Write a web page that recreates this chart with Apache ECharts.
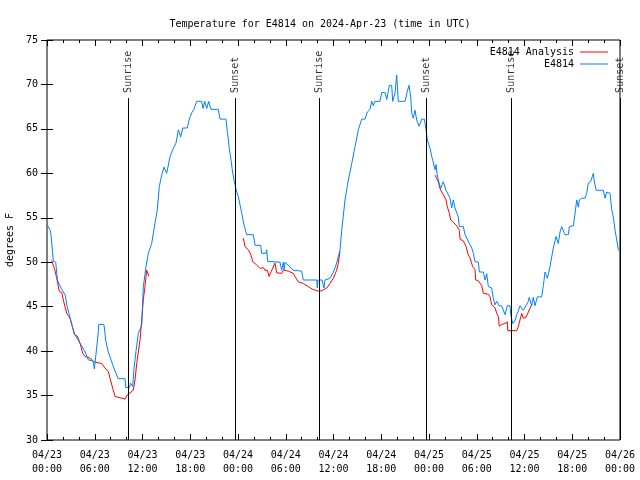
<!DOCTYPE html>
<html>
<head>
<meta charset="utf-8">
<script src="https://cdn.jsdelivr.net/npm/echarts@6/dist/echarts.min.js"></script>
<style>html,body{margin:0;padding:0;background:#fff;}#c{width:640px;height:480px;}</style>
</head>
<body>
<div id="c"></div>
<script>
// ---- data (hours since 2024-04-23 00:00 UTC, degrees F) ----
var blueHours = [0.0,0.4,0.5,0.75,0.8,1.1,1.3,1.8,2.3,2.5,2.8,3.1,3.4,4.0,4.8,5.2,5.8,5.95,6.15,6.45,6.5,7.15,7.4,7.7,8.05,8.4,8.95,9.8,9.9,10.35,10.5,10.77,10.93,11.2,11.47,11.9,12.1,12.44,12.73,13.15,13.57,13.86,14.11,14.41,14.7,15.04,15.46,15.87,16.21,16.5,16.8,17.05,17.63,17.88,18.18,18.47,18.81,19.44,19.6,19.82,20.07,20.32,20.48,20.6,21.53,21.74,22.49,22.66,22.91,23.12,23.28,23.5,23.84,24.04,24.47,24.76,25.09,25.92,26.14,26.85,26.98,27.5,27.6,27.73,29.28,29.49,29.7,29.8,29.9,30.95,32.0,32.2,33.89,33.97,34.05,34.56,34.8,34.93,35.56,35.98,36.4,36.82,37.03,37.45,37.86,38.29,38.7,39.12,39.55,39.96,40.25,40.59,40.8,41.0,41.2,41.84,42.06,42.47,42.69,43.01,43.31,43.44,43.73,43.94,44.14,44.99,45.28,45.49,45.7,45.83,46.03,46.24,46.46,46.75,47.09,47.41,47.63,47.79,48.13,48.34,48.47,48.67,48.76,48.88,49.0,49.17,49.47,49.8,50.14,50.64,50.85,51.05,51.27,51.68,51.81,52.31,52.53,53.07,53.37,53.58,53.78,54.2,54.33,54.83,55.04,55.26,55.46,55.88,56.08,56.29,56.51,56.83,57.13,57.55,57.84,58.18,58.27,58.52,58.81,59.02,59.22,59.43,59.85,60.19,60.48,60.6,60.9,61.1,61.32,61.61,62.16,62.37,62.58,62.87,63.21,63.42,63.62,63.96,64.25,64.46,64.68,64.88,65.09,65.51,65.64,66.14,66.35,66.56,66.76,66.89,67.19,67.6,67.82,68.02,68.32,68.65,68.74,68.99,69.9,70.12,70.33,70.53,70.75,70.96,71.16,71.38,71.59,71.79,72.0];
var blueTemps = [54.2,53.6,53.1,53.1,50.1,50.0,48.0,47.0,46.3,45.1,44.1,43.1,42.0,41.1,39.9,39.0,38.9,38.0,39.6,42.2,43.0,43.0,41.1,39.9,39.0,38.1,36.9,36.9,35.9,35.9,36.4,36.0,38.0,40.1,42.0,42.9,47.2,49.5,51.0,52.1,54.4,55.9,58.5,59.8,60.7,60.0,61.9,62.8,63.4,64.9,64.1,65.1,65.1,66.1,66.8,67.2,68.1,68.1,67.3,68.1,67.3,68.1,68.1,67.2,67.2,66.1,66.1,64.7,62.8,61.5,60.4,59.2,57.9,57.4,55.5,54.2,53.1,53.1,51.9,51.9,51.0,51.0,51.4,50.1,50.0,49.1,50.0,49.1,50.0,49.1,49.0,48.0,48.0,47.1,48.0,48.0,47.1,48.0,48.2,48.9,49.9,51.4,53.6,57.0,59.25,61.1,63.0,64.9,66.1,66.1,66.9,67.2,68.1,67.6,68.1,68.1,69.1,69.1,68.3,69.9,69.9,68.1,69.0,71.06,68.1,68.1,69.25,69.9,68.6,66.75,66.2,67.1,66.0,65.3,66.1,66.1,64.9,63.75,62.8,61.9,61.5,60.7,60.4,61.0,60.0,59.25,58.3,59.06,58.1,57.2,56.1,57.0,56.1,55.1,54.0,54.0,53.1,52.1,51.6,51.0,50.06,50.0,48.9,48.9,48.0,48.7,47.25,47.1,45.9,45.2,45.6,45.1,45.1,44.1,45.1,45.1,44.1,43.1,43.4,44.1,44.5,45.1,44.6,45.1,45.6,46.05,45.1,46.05,45.1,46.1,46.1,47.4,48.9,48.2,49.5,50.6,51.6,52.9,52.1,53.4,54.0,54.0,53.1,53.1,54.0,54.1,55.5,57.0,56.2,57.0,57.2,57.2,57.75,58.9,59.1,60.0,59.3,58.1,58.1,57.2,57.9,57.9,57.75,55.9,55.1,53.6,52.5,51.4,51.2];
var redHours = [0.59,0.79,1.0,1.22,1.55,1.85,2.05,2.26,2.48,2.89,3.18,3.52,3.81,4.15,4.49,4.78,5.4,5.91,6.87,7.29,7.7,7.92,8.26,8.55,8.76,9.8,10.09,10.43,10.84,11.06,11.27,11.69,11.9,12.1,12.31,12.53,12.65,12.82,
  18.0,
  24.67,24.88,25.3,25.6,25.85,26.35,26.77,27.18,27.39,27.68,27.9,28.24,28.65,28.86,29.49,29.7,30.32,30.95,31.16,31.58,32.21,32.84,33.39,34.09,34.52,35.15,35.56,35.98,36.4,36.6,36.82,
  42.0,
  48.76,48.97,49.17,49.38,49.59,49.8,50.14,50.3,50.56,50.73,51.05,51.48,51.81,51.9,52.31,52.65,52.94,53.15,53.49,53.78,53.87,54.2,54.62,54.83,55.46,55.67,55.88,56.29,56.51,56.71,56.83,57.13,57.55,57.84,57.89,59.02,59.22,59.65,59.85,60.19,60.48,60.9];
var redTemps = [50.2,50.1,49.1,48.2,46.7,46.6,45.75,45.0,44.25,43.7,42.75,41.8,41.7,40.9,39.75,39.4,39.2,38.8,38.6,38.1,37.7,37.6,35.8,34.9,34.7,34.6,35.06,35.3,35.6,36.75,38.6,41.25,43.5,45.75,47.25,49.1,49.2,48.4,
  null,
  52.7,51.75,51.4,50.9,50.06,49.7,49.3,49.4,49.1,49.1,48.4,49.1,49.9,48.8,48.75,49.1,49.0,48.75,48.4,47.8,47.6,47.25,46.95,46.75,46.8,47.1,47.6,48.2,49.1,49.9,51.2,
  null,
  59.8,59.7,59.06,58.3,57.9,57.6,57.0,56.25,55.5,54.75,54.5,54.1,53.6,52.6,52.4,51.8,50.8,50.5,49.5,49.2,48.0,47.9,47.4,46.5,46.4,46.1,45.2,44.9,44.25,43.9,42.8,43.0,43.1,43.3,42.3,42.3,42.75,44.25,43.7,43.8,44.4,45.2];
var sunHours = [10.22, 23.63, 34.2, 47.7, 58.35, 72.0];
var sunNames = ['Sunrise','Sunset','Sunrise','Sunset','Sunrise','Sunset'];
var sunLineTop = 68.47;
var sunLabelY = 69.05;
var xTickDays = ['04/23','04/24','04/25','04/26'];

function pairs(h, t) { return h.map(function (v, i) { return [v, t[i]]; }); }

var FONT = 'DejaVu Sans Mono';
var chart = echarts.init(document.getElementById('c'), null, {renderer: 'canvas'});
var tickStyle = {show: true, inside: true, length: 6, lineStyle: {color: '#000', width: 1}};
var minorStyle = {show: true, splitNumber: 3, length: 3, lineStyle: {color: '#000', width: 1}};

chart.setOption({
  animation: false,
  backgroundColor: '#fff',
  textStyle: {fontFamily: FONT},
  title: {
    text: 'Temperature for E4814 on 2024-Apr-23 (time in UTC)',
    left: 'center', top: 14,
    textStyle: {fontFamily: FONT, fontSize: 10, fontWeight: 'normal', color: '#000'}
  },
  legend: [
    {data: ['E4814 Analysis'], right: 27, top: 42, align: 'right', itemWidth: 28, itemHeight: 10, itemGap: 4,
     textStyle: {fontFamily: FONT, fontSize: 10, color: '#000', padding: [0, 1, 0, 0]}, icon: 'path://M0,5L28,5L28,6L0,6Z'},
    {data: ['E4814'], right: 27, top: 54, align: 'right', itemWidth: 28, itemHeight: 10,
     textStyle: {fontFamily: FONT, fontSize: 10, color: '#000', padding: [0, 1, 0, 0]}, icon: 'path://M0,5L28,5L28,6L0,6Z'}
  ],
  grid: {left: 47, right: 20, top: 40, bottom: 40, show: true, borderColor: '#000', borderWidth: 1,
    backgroundColor: 'transparent', containLabel: false, outerBoundsMode: 'none'},
  xAxis: [
    {type: 'value', min: 0, max: 72, interval: 6, position: 'bottom',
     axisLine: {show: false}, splitLine: {show: false},
     axisTick: tickStyle, minorTick: minorStyle,
     axisLabel: {fontFamily: FONT, fontSize: 10, color: '#000', margin: 8, lineHeight: 14,
       formatter: function (v) { var d = Math.floor(v / 24); var h = v - d * 24; return xTickDays[d] + '\n' + (h < 10 ? '0' : '') + h + ':00'; }}},
    {type: 'value', min: 0, max: 72, interval: 6, position: 'top',
     axisLine: {show: false}, splitLine: {show: false},
     axisTick: tickStyle, minorTick: minorStyle, axisLabel: {show: false}}
  ],
  yAxis: [
    {type: 'value', min: 30, max: 75, interval: 5, position: 'left',
     name: 'degrees F', nameLocation: 'middle', nameRotate: 90, nameGap: 31,
     nameTextStyle: {fontFamily: FONT, fontSize: 10, color: '#000'},
     axisLine: {show: false}, splitLine: {show: false},
     axisTick: tickStyle, axisLabel: {fontFamily: FONT, fontSize: 10, color: '#000', margin: 9}},
    {type: 'value', min: 30, max: 75, interval: 5, position: 'right',
     axisLine: {show: false}, splitLine: {show: false},
     axisTick: tickStyle, axisLabel: {show: false}}
  ],
  series: [
    {name: 'E4814 Analysis', type: 'line', data: pairs(redHours, redTemps), showSymbol: false, symbol: 'none',
     connectNulls: false, lineStyle: {color: '#ff0000', width: 1}, itemStyle: {color: '#ff0000'}, z: 3},
    {name: 'E4814', type: 'line', data: pairs(blueHours, blueTemps), showSymbol: false, symbol: 'none',
     lineStyle: {color: '#0080ff', width: 1}, itemStyle: {color: '#0080ff'}, z: 4},
    {name: 'sun', type: 'scatter', symbolSize: 0, silent: true, z: 5,
     data: sunHours.map(function (h, i) { return {value: [h, sunLabelY], name: sunNames[i]}; }),
     label: {show: true, position: 'inside', rotate: 90, align: 'left', verticalAlign: 'middle',
       formatter: function (p) { return p.name; }, fontFamily: FONT, fontSize: 10, color: '#000'},
     markLine: {silent: true, symbol: ['none', 'none'], label: {show: false},
       lineStyle: {color: '#000', width: 1, type: 'solid'},
       data: sunHours.map(function (h) { return [{coord: [h, 30]}, {coord: [h, sunLineTop]}]; })}}
  ]
});
</script>
</body>
</html>
